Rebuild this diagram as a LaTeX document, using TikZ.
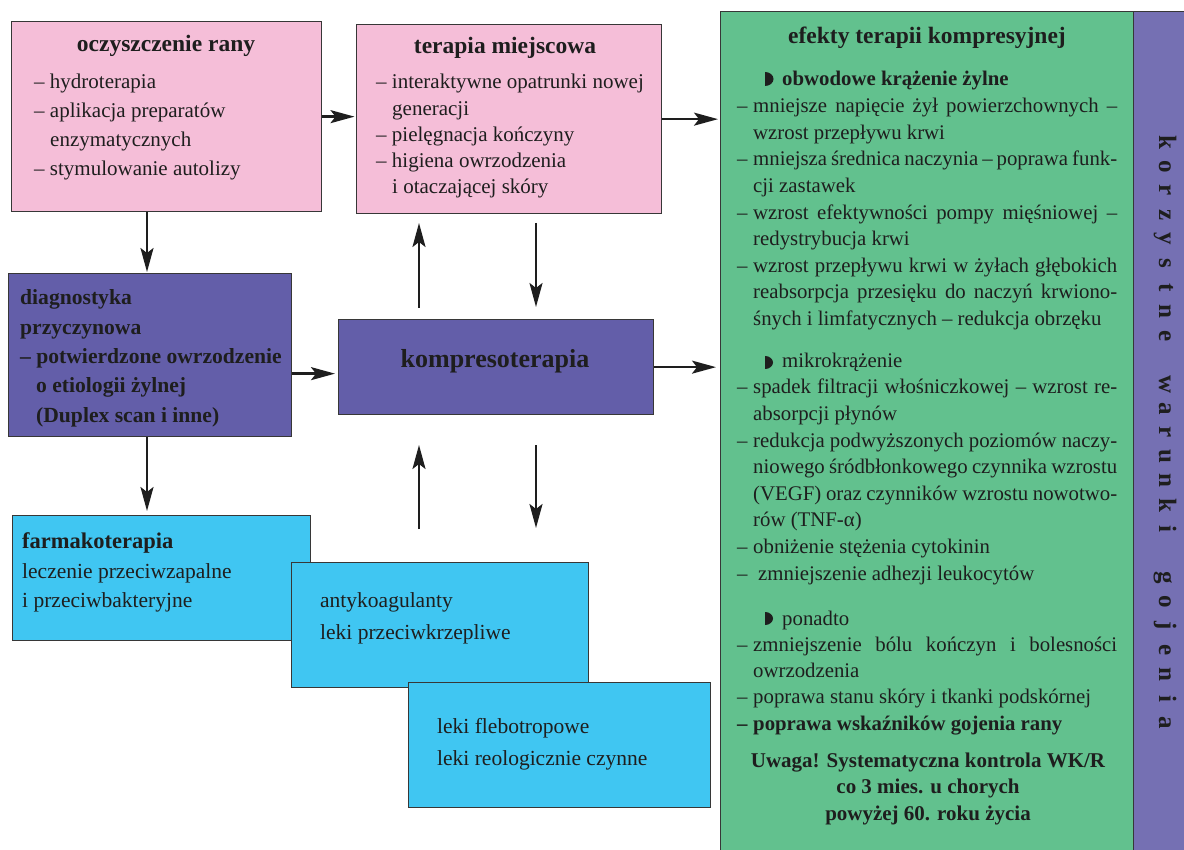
\documentclass[tikz,border=0pt]{standalone}
\usepackage{fontspec}
\setmainfont{Liberation Serif}
\usetikzlibrary{arrows.meta}
\definecolor{cpink}{RGB}{245,190,216}
\definecolor{cdiag}{RGB}{99,94,169}
\definecolor{cblue}{RGB}{64,198,242}
\definecolor{cgreen}{RGB}{98,193,142}
\definecolor{cstripe}{RGB}{117,112,179}
\definecolor{cline}{RGB}{55,55,55}
\definecolor{ctext}{RGB}{30,30,30}
\newlength\dw
\setlength\dw{16pt}
\newcommand\dd{\makebox[\dw][l]{–}}
\newcommand\dl[1]{\dd\makebox[\dimexpr380pt-\dw\relax][s]{#1}}
\newcommand\cl[1]{\hspace*{\dw}\makebox[\dimexpr380pt-\dw\relax][s]{#1}}
\newcommand\rlc[1]{\hspace*{\dw}#1}
\newcommand\ltr[1]{\makebox[24.2pt]{#1}}
\tikzset{
  box/.style={draw=cline, line width=1.3pt, anchor=north west, inner sep=0pt},
  txt/.style={anchor=base west, inner sep=0pt, align=left, text=ctext},
  ctxt/.style={anchor=base, inner sep=0pt, align=center, text=ctext},
  arr/.style={draw=ctext, line width=2.3pt, -{Stealth[length=24pt,width=13pt,inset=5pt]}},
  bodyA/.style={font=\fontsize{21}{29}\selectfont},
  bodyB/.style={font=\fontsize{21}{26.3}\selectfont},
  bodyG/.style={font=\fontsize{20.8}{26.6}\selectfont},
  titl/.style={font=\bfseries\fontsize{23.5}{28}\selectfont},
  bul/.style={fill=ctext},
}
\begin{document}
\begin{tikzpicture}[x={(1pt,0pt)}, y={(0pt,-1pt)}]
\useasboundingbox (0,0) rectangle (1184,850);
\fill[white] (0,0) rectangle (1184,850);

% right panel
\node[box, fill=cgreen, minimum width=470pt, minimum height=850pt] (green) at (720,11) {};
\node[box, fill=cstripe, minimum width=55pt, minimum height=850pt] (stripe) at (1133,11) {};

% boxes
\node[box, fill=cpink, minimum width=310pt, minimum height=190pt] (ocz) at (11,21) {};
\node[box, fill=cpink, minimum width=305pt, minimum height=189pt] (ter) at (356,24) {};
\node[box, fill=cdiag, minimum width=283pt, minimum height=163pt] (dia) at (8,273) {};
\node[box, fill=cdiag, minimum width=315pt, minimum height=95pt] (kom) at (338,319) {};
\node[box, fill=cblue, minimum width=298pt, minimum height=125pt] (farm) at (12,515) {};
\node[box, fill=cblue, minimum width=297pt, minimum height=125pt] (anty) at (291,562) {};
\node[box, fill=cblue, minimum width=302pt, minimum height=125pt] (leki) at (408,682) {};

% texts in boxes (multi-line nodes: anchor at baseline of last line)
\node[ctxt, titl] (oczT) at (166,52) {oczyszczenie rany};
\node[txt, bodyA] (oczB) at (34,176) {– hydroterapia\\– aplikacja preparatów\\\rlc{enzymatycznych}\\– stymulowanie autolizy};
\node[ctxt, titl] (terT) at (505,54) {terapia miejscowa};
\node[txt, bodyB] (terB) at (376,194) {– interaktywne opatrunki nowej\\\rlc{generacji}\\– pielęgnacja kończyny\\– higiena owrzodzenia\\\rlc{i otaczającej skóry}};
\node[txt, font=\bfseries\fontsize{21.6}{29.3}\selectfont] (diaT) at (20,422) {diagnostyka\\przyczynowa\\– potwierdzone owrzodzenie\\\rlc{o etiologii żylnej}\\\rlc{(Duplex scan i inne)}};
\node[ctxt, font=\bfseries\fontsize{26}{30}\selectfont] (komT) at (495,368) {kompresoterapia};
\node[txt, font=\bfseries\fontsize{22.5}{28}\selectfont] (farmT) at (22,548) {farmakoterapia};
\node[txt, font=\fontsize{21.5}{29.5}\selectfont] (farmB) at (22,607.5) {leczenie przeciwzapalne\\i przeciwbakteryjne};
\node[txt, font=\fontsize{21.5}{32}\selectfont] (antyB) at (320,639) {antykoagulanty\\leki przeciwkrzepliwe};
\node[txt, font=\fontsize{21.5}{32}\selectfont] (lekiB) at (437,765) {leki flebotropowe\\leki reologicznie czynne};

% green panel texts
\node[ctxt, titl] (gT) at (927,44) {efekty terapii kompresyjnej};
\fill[bul] (765,72) arc[start angle=90, end angle=-90, x radius=8.5pt, y radius=7pt] -- cycle;
\node[txt, font=\bfseries\fontsize{20.8}{26.6}\selectfont] (h1) at (782,86) {obwodowe krążenie żylne};
\node[txt, bodyG] (g1) at (737,325.5) {\dl{mniejsze napięcie żył powierzchownych –}\\
\rlc{wzrost przepływu krwi}\\
\dl{mniejsza średnica naczynia – poprawa funk-}\\
\rlc{cji zastawek}\\
\dl{wzrost efektywności pompy mięśniowej –}\\
\rlc{redystrybucja krwi}\\
\dl{wzrost przepływu krwi w żyłach głębokich}\\
\cl{reabsorpcja przesięku do naczyń krwiono-}\\
\rlc{śnych i limfatycznych – redukcja obrzęku}};
\fill[bul] (765,356) arc[start angle=90, end angle=-90, x radius=8pt, y radius=6.5pt] -- cycle;
\node[txt, bodyG] (h2) at (782,367) {mikrokrążenie};
\node[txt, bodyG] (g2) at (737,580) {\dl{spadek filtracji włośniczkowej – wzrost re-}\\
\rlc{absorpcji płynów}\\
\dl{redukcja podwyższonych poziomów naczy-}\\
\cl{niowego śródbłonkowego czynnika wzrostu}\\
\cl{(VEGF) oraz czynników wzrostu nowotwo-}\\
\rlc{rów (TNF-α)}\\
\dd obniżenie stężenia cytokinin\\
\dd\hspace*{5pt}zmniejszenie adhezji leukocytów};
\fill[bul] (765,612) arc[start angle=90, end angle=-90, x radius=8pt, y radius=6.5pt] -- cycle;
\node[txt, bodyG] (h3) at (782,625) {ponadto};
\node[txt, font=\fontsize{20.8}{26.1}\selectfont] (g3) at (737,730) {\dl{zmniejszenie bólu kończyn i bolesności}\\
\rlc{owrzodzenia}\\
\dd poprawa stanu skóry i tkanki podskórnej\\
{\bfseries \dd poprawa wskaźników gojenia rany}};
\node[ctxt, font=\bfseries\fontsize{21}{26.5}\selectfont] (uw) at (928,820) {Uwaga! Systematyczna kontrola WK/R\\co 3 mies. u chorych\\powyżej 60. roku życia};

% vertical text
\node[rotate=-90, inner sep=0pt, text=ctext, font=\bfseries\fontsize{25}{25}\selectfont] (vt) at (1165,432.5)
{\ltr{k}\ltr{o}\ltr{r}\ltr{z}\ltr{y}\ltr{s}\ltr{t}\ltr{n}\ltr{e}\ltr{}\ltr{w}\ltr{a}\ltr{r}\ltr{u}\ltr{n}\ltr{k}\ltr{i}\ltr{}\ltr{g}\ltr{o}\ltr{j}\ltr{e}\ltr{n}\ltr{i}\ltr{a}};

% connectors
\coordinate (cx) at (147,0);
\draw[arr, shorten >=1.5pt] (ocz.east) -- (ter.west |- ocz.east);
\draw[arr, shorten >=2pt] (ter.east) -- (green.west |- ter.east);
\draw[arr, shorten >=4pt] (kom.east) -- (green.west |- kom.east);
\draw[arr, shorten >=3pt] ([yshift=-18.5pt]dia.east) -- ([yshift=-18.5pt]dia.east -| kom.west);
\draw[arr, shorten >=1pt] (ocz.south -| cx) -- (dia.north -| cx);
\draw[arr, shorten >=4pt] (dia.south -| cx) -- (farm.north -| cx);
\coordinate (a1s) at (419,308); \coordinate (a1e) at (419,223);
\coordinate (a2s) at (536,223); \coordinate (a2e) at (536,307);
\coordinate (a3s) at (419,529); \coordinate (a3e) at (419,445);
\coordinate (a4s) at (536,445); \coordinate (a4e) at (536,528);
\draw[arr] (a1s) -- (a1e);
\draw[arr] (a2s) -- (a2e);
\draw[arr] (a3s) -- (a3e);
\draw[arr] (a4s) -- (a4e);
\end{tikzpicture}
\end{document}
